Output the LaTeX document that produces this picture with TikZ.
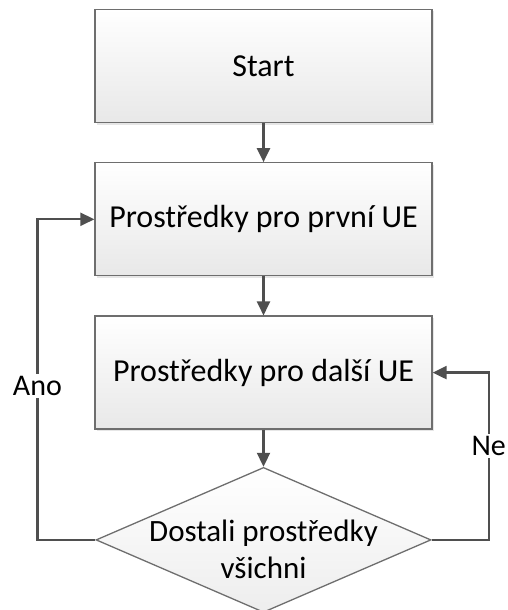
\documentclass[tikz,border=0pt]{standalone}
\usepackage{fontspec}
\setmainfont{Carlito}
\usetikzlibrary{arrows.meta,positioning,shapes.geometric,shadows}
\definecolor{boxline}{HTML}{6E6E6E}
\definecolor{flowline}{HTML}{4F4F4F}

\begin{document}
\begin{tikzpicture}[
  stepbox/.style={rectangle, draw=boxline, line width=1.3pt,
    top color=white, bottom color=black!9,
    minimum width=337pt, minimum height=113pt, align=center,
    font=\fontsize{32}{38}\selectfont,
    drop shadow={shadow xshift=2pt, shadow yshift=-2pt, opacity=0.2}},
  decision/.style={diamond, draw=boxline, line width=1.3pt,
    top color=white, bottom color=black!7, inner sep=0pt,
    minimum width=335pt, minimum height=145pt},
  flow/.style={draw=flowline, line width=2.3pt, -{Triangle[length=14pt,width=13pt]}},
  tag/.style={fill=white, inner sep=2pt, font=\fontsize{30}{36}\selectfont},
  node distance=39pt
]
  \useasboundingbox (0,0) rectangle (507pt,-610pt);

  \node[stepbox] (start) at (263.5pt,-66pt) {Start};
  \node[stepbox, below=of start] (first) {Prostředky pro první UE};
  \node[stepbox, below=of first] (next) {Prostředky pro další UE};
  \node[decision, below=37pt of next,
    label={[align=center, yshift=-9pt, font=\fontsize{31}{37}\selectfont]center:{Dostali prostředky\\všichni}}] (all) {};

  \draw[flow] (start) -- (first);
  \draw[flow] (first) -- (next);
  \draw[flow] (next) -- (all);

  % zpet nahoru
  \draw[flow] (all.west) -- ++(-58pt,0) |- node[pos=0.24, tag] {Ano} (first.west);
  \draw[flow] (all.east) -- ++(57pt,0) |- node[pos=0.28, tag] {Ne} (next.east);
\end{tikzpicture}
\end{document}
